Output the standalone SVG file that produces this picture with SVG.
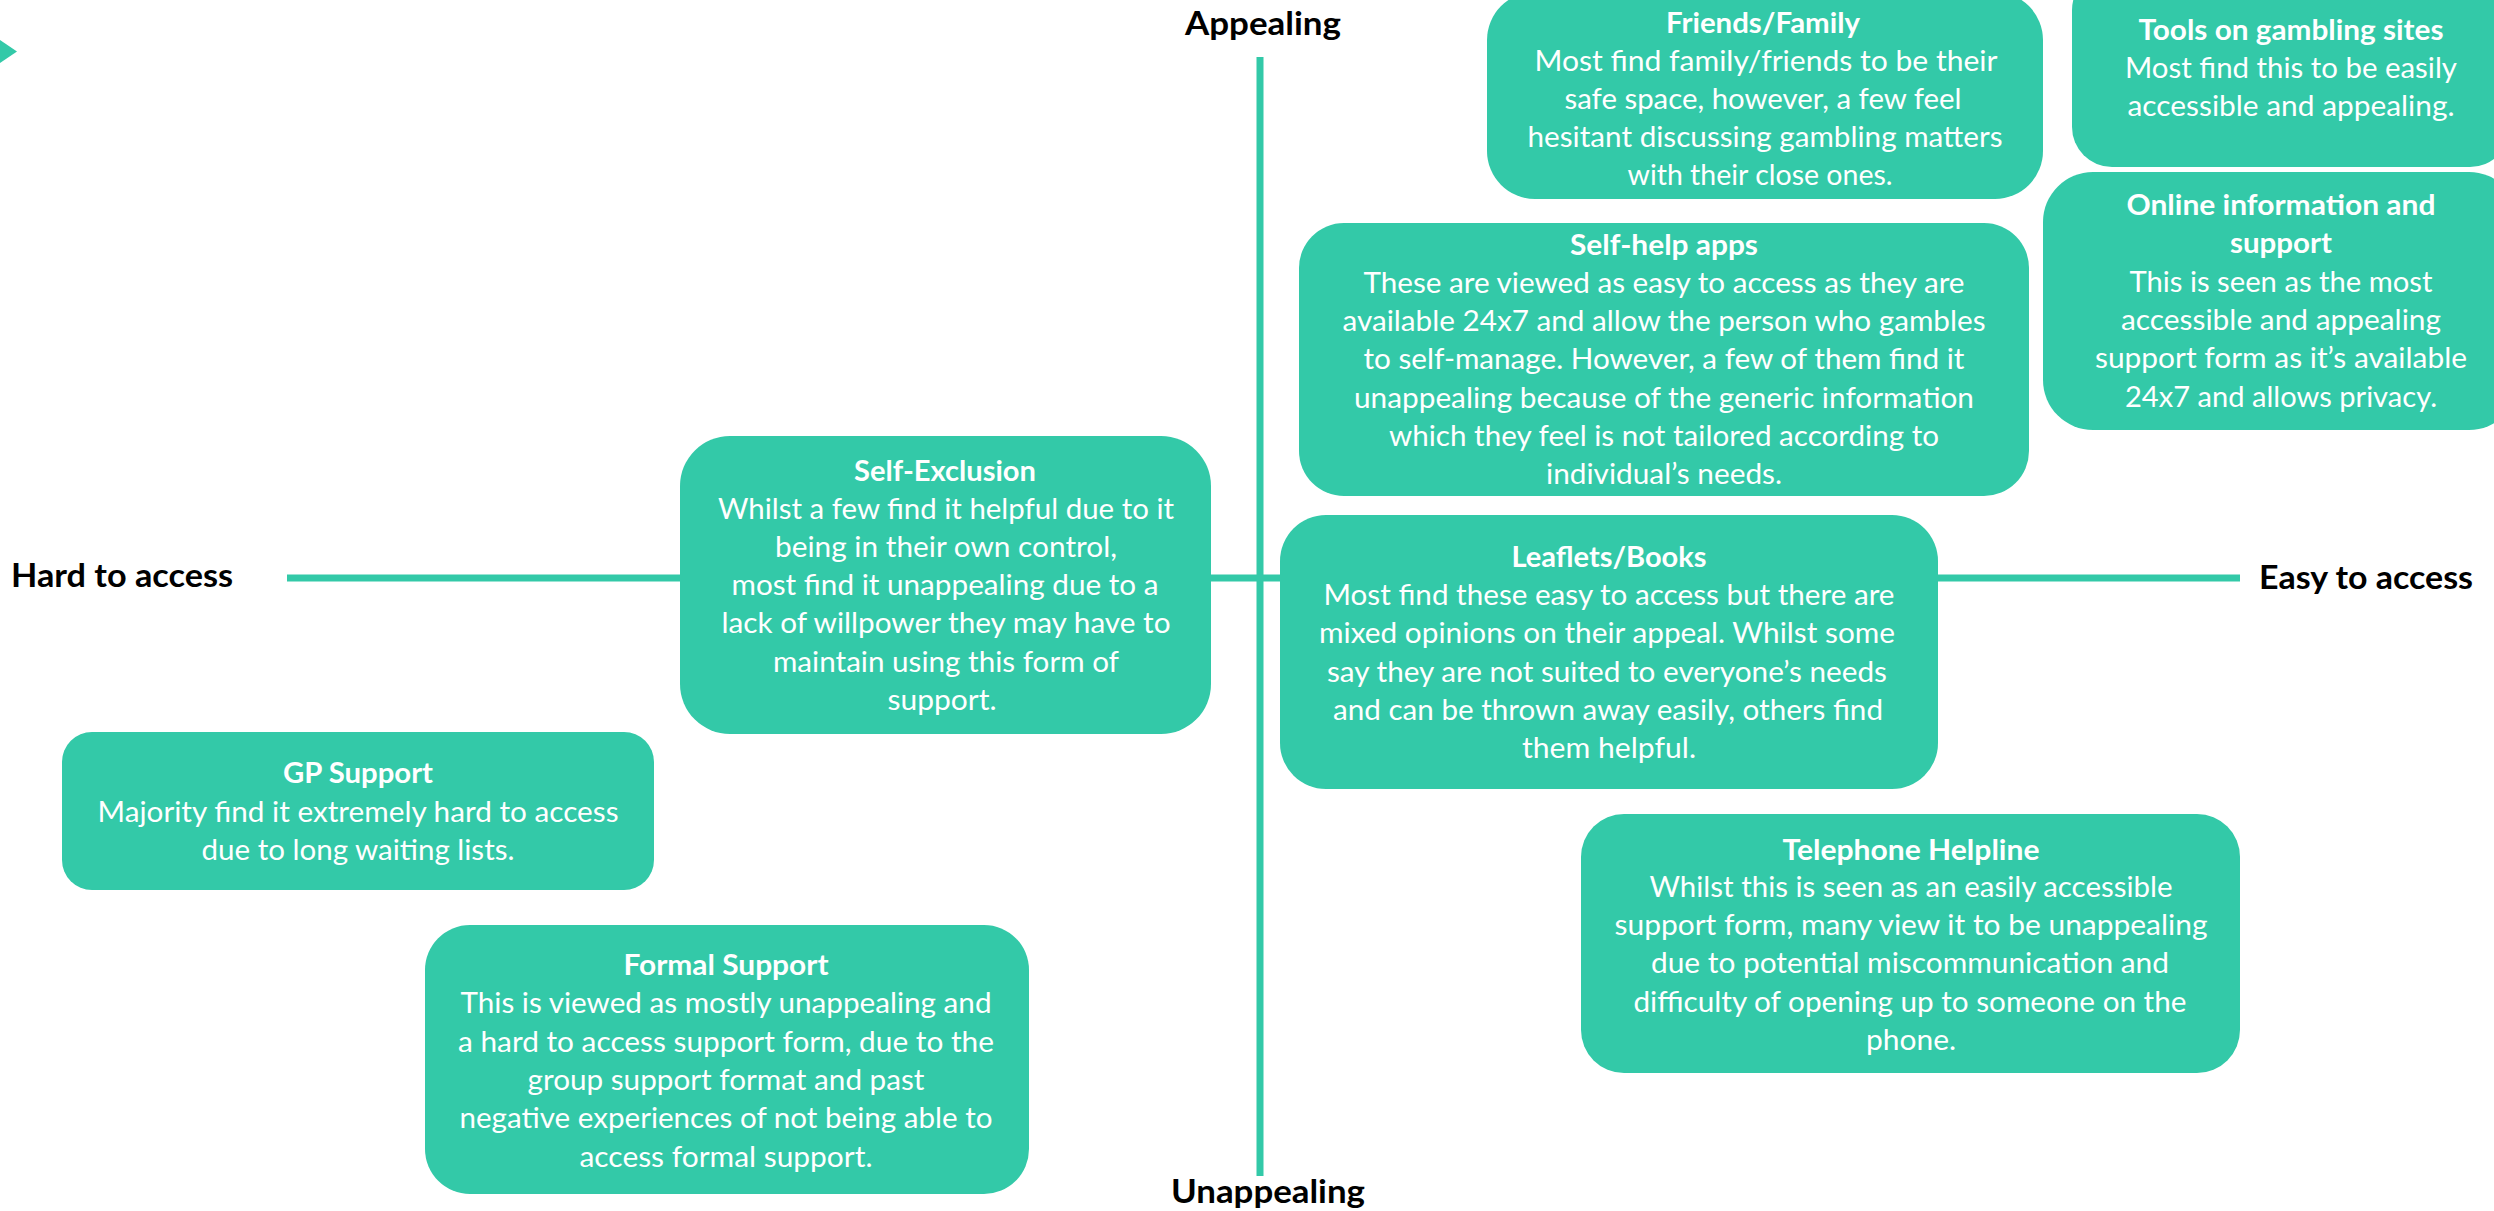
<svg xmlns="http://www.w3.org/2000/svg" width="2494" height="1211" viewBox="0 0 2494 1211">
<style>
.box{fill:#33C9A8}
.axis{stroke:#33C9A8;stroke-width:7;fill:none}
.t{font-family:Lato,"Open Sans","Liberation Sans",sans-serif;font-size:29px;fill:#FFFFFF;text-anchor:middle}
.b{font-weight:bold}
.lbl{font-family:Lato,"Open Sans","Liberation Sans",sans-serif;font-size:33px;font-weight:bold;fill:#000000;text-anchor:middle}
</style>
<rect width="2494" height="1211" fill="#FFFFFF"/>
<g id="connectors">
<line class="axis" x1="1260" y1="57" x2="1260" y2="1176"/>
<line class="axis" x1="287" y1="578" x2="2240" y2="578"/>
<polygon points="0,40 17,51.5 0,63" fill="#33C9A8"/>
</g>
<g id="axis-labels">
<text class="lbl" x="1263" y="35" textLength="156" lengthAdjust="spacingAndGlyphs">Appealing</text>
<text class="lbl" x="1268" y="1203" textLength="194" lengthAdjust="spacingAndGlyphs">Unappealing</text>
<text class="lbl" x="122" y="587" textLength="222" lengthAdjust="spacingAndGlyphs">Hard to access</text>
<text class="lbl" x="2366" y="589" textLength="214" lengthAdjust="spacingAndGlyphs">Easy to access</text>
</g>
<g id="friends-family">
<rect class="box" x="1487" y="-8" width="556" height="207" rx="48"/>
<text class="t b" x="1763" y="33" textLength="194" lengthAdjust="spacingAndGlyphs">Friends/Family</text>
<text class="t" x="1766" y="71" textLength="463" lengthAdjust="spacingAndGlyphs">Most find family/friends to be their</text>
<text class="t" x="1763" y="109" textLength="397" lengthAdjust="spacingAndGlyphs">safe space, however, a few feel</text>
<text class="t" x="1765" y="147" textLength="475" lengthAdjust="spacingAndGlyphs">hesitant discussing gambling matters</text>
<text class="t" x="1760" y="185" textLength="265" lengthAdjust="spacingAndGlyphs">with their close ones.</text>
</g>
<g id="tools-gambling-sites">
<rect class="box" x="2072" y="-30" width="438" height="197" rx="40"/>
<text class="t b" x="2291" y="40" textLength="305" lengthAdjust="spacingAndGlyphs">Tools on gambling sites</text>
<text class="t" x="2291" y="78" textLength="332" lengthAdjust="spacingAndGlyphs">Most find this to be easily</text>
<text class="t" x="2291" y="116" textLength="327" lengthAdjust="spacingAndGlyphs">accessible and appealing.</text>
</g>
<g id="online-information">
<rect class="box" x="2043" y="172" width="476" height="258" rx="50"/>
<text class="t b" x="2281" y="215" textLength="309" lengthAdjust="spacingAndGlyphs">Online information and</text>
<text class="t b" x="2281" y="253" textLength="102" lengthAdjust="spacingAndGlyphs">support</text>
<text class="t" x="2281" y="292" textLength="303" lengthAdjust="spacingAndGlyphs">This is seen as the most</text>
<text class="t" x="2281" y="330" textLength="320" lengthAdjust="spacingAndGlyphs">accessible and appealing</text>
<text class="t" x="2281" y="368" textLength="372" lengthAdjust="spacingAndGlyphs">support form as it’s available</text>
<text class="t" x="2281" y="407" textLength="312" lengthAdjust="spacingAndGlyphs">24x7 and allows privacy.</text>
</g>
<g id="self-help-apps">
<rect class="box" x="1299" y="223" width="730" height="273" rx="45"/>
<text class="t b" x="1664" y="255" textLength="188" lengthAdjust="spacingAndGlyphs">Self-help apps</text>
<text class="t" x="1664" y="293" textLength="601" lengthAdjust="spacingAndGlyphs">These are viewed as easy to access as they are</text>
<text class="t" x="1664" y="331" textLength="643" lengthAdjust="spacingAndGlyphs">available 24x7 and allow the person who gambles</text>
<text class="t" x="1664" y="369" textLength="601" lengthAdjust="spacingAndGlyphs">to self-manage. However, a few of them find it</text>
<text class="t" x="1664" y="408" textLength="620" lengthAdjust="spacingAndGlyphs">unappealing because of the generic information</text>
<text class="t" x="1664" y="446" textLength="550" lengthAdjust="spacingAndGlyphs">which they feel is not tailored according to</text>
<text class="t" x="1664" y="484" textLength="236" lengthAdjust="spacingAndGlyphs">individual’s needs.</text>
</g>
<g id="self-exclusion">
<rect class="box" x="680" y="436" width="531" height="298" rx="50"/>
<text class="t b" x="945" y="481" textLength="182" lengthAdjust="spacingAndGlyphs">Self-Exclusion</text>
<text class="t" x="946" y="519" textLength="456" lengthAdjust="spacingAndGlyphs">Whilst a few find it helpful due to it</text>
<text class="t" x="946" y="557" textLength="342" lengthAdjust="spacingAndGlyphs">being in their own control,</text>
<text class="t" x="945" y="595" textLength="427" lengthAdjust="spacingAndGlyphs">most find it unappealing due to a</text>
<text class="t" x="946" y="633" textLength="449" lengthAdjust="spacingAndGlyphs">lack of willpower they may have to</text>
<text class="t" x="946" y="672" textLength="346" lengthAdjust="spacingAndGlyphs">maintain using this form of</text>
<text class="t" x="942" y="710" textLength="109" lengthAdjust="spacingAndGlyphs">support.</text>
</g>
<g id="leaflets-books">
<rect class="box" x="1280" y="515" width="658" height="274" rx="46"/>
<text class="t b" x="1609" y="567" textLength="195" lengthAdjust="spacingAndGlyphs">Leaflets/Books</text>
<text class="t" x="1609" y="605" textLength="571" lengthAdjust="spacingAndGlyphs">Most find these easy to access but there are</text>
<text class="t" x="1607" y="643" textLength="576" lengthAdjust="spacingAndGlyphs">mixed opinions on their appeal. Whilst some</text>
<text class="t" x="1607" y="682" textLength="560" lengthAdjust="spacingAndGlyphs">say they are not suited to everyone’s needs</text>
<text class="t" x="1608" y="720" textLength="550" lengthAdjust="spacingAndGlyphs">and can be thrown away easily, others find</text>
<text class="t" x="1609" y="758" textLength="174" lengthAdjust="spacingAndGlyphs">them helpful.</text>
</g>
<g id="gp-support">
<rect class="box" x="62" y="732" width="592" height="158" rx="30"/>
<text class="t b" x="358" y="783" textLength="150" lengthAdjust="spacingAndGlyphs">GP Support</text>
<text class="t" x="358" y="822" textLength="521" lengthAdjust="spacingAndGlyphs">Majority find it extremely hard to access</text>
<text class="t" x="358" y="860" textLength="313" lengthAdjust="spacingAndGlyphs">due to long waiting lists.</text>
</g>
<g id="formal-support">
<rect class="box" x="425" y="925" width="604" height="269" rx="45"/>
<text class="t b" x="726" y="975" textLength="205" lengthAdjust="spacingAndGlyphs">Formal Support</text>
<text class="t" x="726" y="1013" textLength="531" lengthAdjust="spacingAndGlyphs">This is viewed as mostly unappealing and</text>
<text class="t" x="726" y="1052" textLength="536" lengthAdjust="spacingAndGlyphs">a hard to access support form, due to the</text>
<text class="t" x="726" y="1090" textLength="397" lengthAdjust="spacingAndGlyphs">group support format and past</text>
<text class="t" x="726" y="1128" textLength="533" lengthAdjust="spacingAndGlyphs">negative experiences of not being able to</text>
<text class="t" x="726" y="1167" textLength="293" lengthAdjust="spacingAndGlyphs">access formal support.</text>
</g>
<g id="telephone-helpline">
<rect class="box" x="1581" y="814" width="659" height="259" rx="43"/>
<text class="t b" x="1911" y="860" textLength="257" lengthAdjust="spacingAndGlyphs">Telephone Helpline</text>
<text class="t" x="1911" y="897" textLength="523" lengthAdjust="spacingAndGlyphs">Whilst this is seen as an easily accessible</text>
<text class="t" x="1911" y="935" textLength="593" lengthAdjust="spacingAndGlyphs">support form, many view it to be unappealing</text>
<text class="t" x="1910" y="973" textLength="518" lengthAdjust="spacingAndGlyphs">due to potential miscommunication and</text>
<text class="t" x="1910" y="1012" textLength="553" lengthAdjust="spacingAndGlyphs">difficulty of opening up to someone on the</text>
<text class="t" x="1911" y="1050" textLength="90" lengthAdjust="spacingAndGlyphs">phone.</text>
</g>
</svg>
